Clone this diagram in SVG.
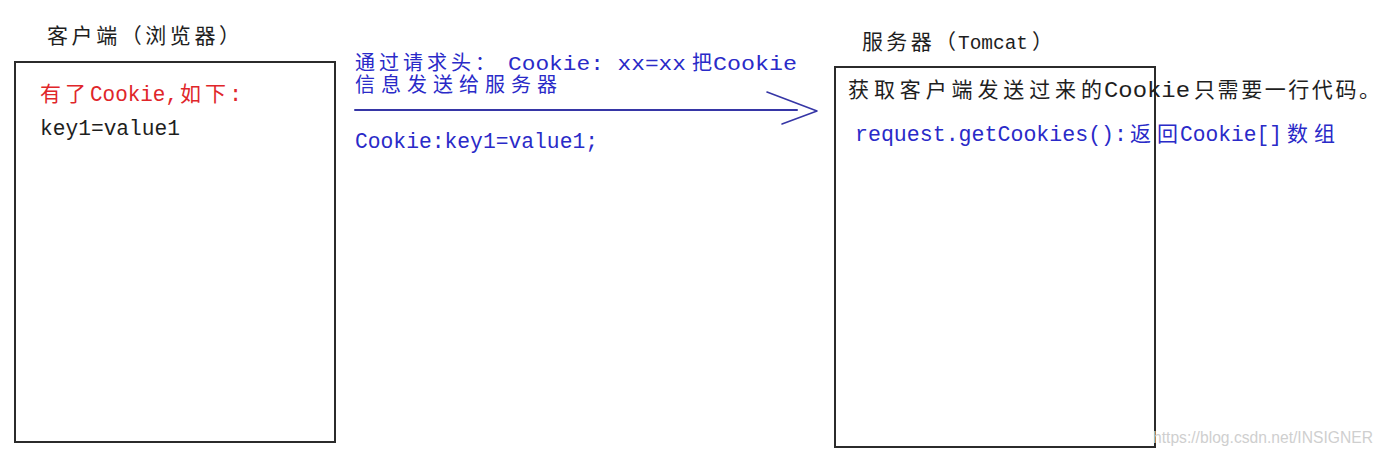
<svg xmlns="http://www.w3.org/2000/svg" width="1384" height="457" viewBox="0 0 1384 457">
  <style>
    .box { fill: #ffffff; stroke: #2b2b2b; stroke-width: 2; }
    .t { font-family: "Liberation Mono", "Noto Sans CJK SC", monospace; font-size: 22px; }
    .cjk { font-family: "Noto Sans CJK SC", "Liberation Mono", sans-serif; font-size: 21px; }
    .sm { font-size: 20px; }
    .cjksm { font-size: 20px; }
    .dark { fill: #1e1e1e; }
    .red { fill: #e0262a; }
    .blue { fill: #2a2ac8; }
    .conn { stroke: #3636a6; fill: none; stroke-linecap: round; stroke-linejoin: round; }
    .wm { font-family: "Liberation Sans", Arial, sans-serif; font-size: 16px; fill: #cfcfcf; }
  </style>
  <rect width="1384" height="457" fill="#ffffff"/>

  <g id="client">
    <text class="t dark" y="43"><tspan class="cjk" x="47" textLength="193" lengthAdjust="spacing">客户端（浏览器）</tspan></text>
    <rect class="box" x="15" y="62" width="320" height="380"/>
    <text class="t red" y="101"><tspan class="cjk" x="40" textLength="46" lengthAdjust="spacing">有了</tspan><tspan x="90" textLength="88" lengthAdjust="spacingAndGlyphs">Cookie,</tspan><tspan class="cjk" x="180" textLength="46" lengthAdjust="spacing">如下</tspan><tspan x="229" textLength="13" lengthAdjust="spacing">:</tspan></text>
    <text class="t dark" y="135"><tspan x="40" textLength="140" lengthAdjust="spacingAndGlyphs">key1=value1</tspan></text>
  </g>

  <g id="server">
    <text class="t dark" y="49"><tspan class="cjk" x="862" textLength="94" lengthAdjust="spacing">服务器（</tspan><tspan class="sm" x="958" textLength="70" lengthAdjust="spacingAndGlyphs">Tomcat</tspan><tspan class="cjk" x="1032" textLength="20" lengthAdjust="spacing">）</tspan></text>
    <rect class="box" x="835" y="67" width="320" height="380"/>
    <text class="t dark" y="97"><tspan class="cjk" x="848" textLength="254" lengthAdjust="spacing">获取客户端发送过来的</tspan><tspan x="1104" textLength="86" lengthAdjust="spacingAndGlyphs">Cookie</tspan><tspan class="cjk" x="1194" textLength="186" lengthAdjust="spacing">只需要一行代码。</tspan></text>
    <text class="t blue" y="141"><tspan x="855" textLength="272" lengthAdjust="spacingAndGlyphs">request.getCookies():</tspan><tspan class="cjk" x="1130" textLength="48" lengthAdjust="spacing">返回</tspan><tspan x="1180" textLength="102" lengthAdjust="spacingAndGlyphs">Cookie[]</tspan><tspan class="cjk" x="1287" textLength="48" lengthAdjust="spacing">数组</tspan></text>
  </g>

  <g id="connectors">
    <line class="conn" x1="355" y1="110" x2="797" y2="110" stroke-width="2"/>
    <polyline class="conn" points="767,92 817,111 782,124" stroke-width="1.6"/>
  </g>

  <g id="request-label">
    <text class="t blue sm"><tspan class="cjk cjksm" x="355" y="70" textLength="140" lengthAdjust="spacing">通过请求头：</tspan><tspan x="508" y="70" textLength="178" lengthAdjust="spacingAndGlyphs">Cookie: xx=xx</tspan><tspan class="cjk cjksm" x="692" y="70" textLength="20" lengthAdjust="spacing">把</tspan><tspan x="713" y="70" textLength="84" lengthAdjust="spacingAndGlyphs">Cookie</tspan><tspan class="cjk cjksm" x="355" y="92" textLength="202" lengthAdjust="spacing">信息发送给服务器</tspan></text>
    <text class="t blue" y="148"><tspan x="355" textLength="243" lengthAdjust="spacingAndGlyphs">Cookie:key1=value1;</tspan></text>
  </g>

  <text class="wm" x="1153" y="443" textLength="220" lengthAdjust="spacingAndGlyphs">https://blog.csdn.net/INSIGNER</text>
</svg>
